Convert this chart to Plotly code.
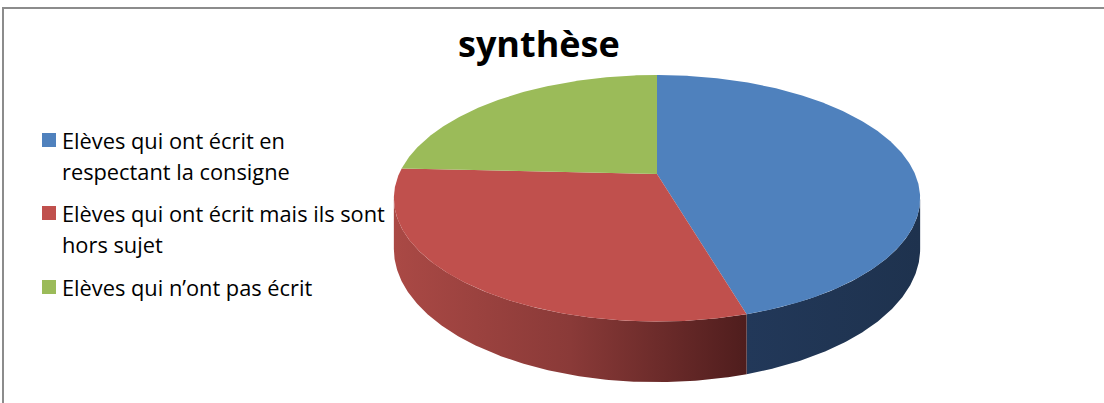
import numpy as np
import plotly.graph_objects as go

# ---- data ----
categories = [
    "Elèves qui ont écrit en respectant la consigne",
    "Elèves qui ont écrit mais ils sont hors sujet",
    "Elèves qui n’ont pas écrit",
]
legend_lines = [
    ["Elèves qui ont écrit en", "respectant la consigne"],
    ["Elèves qui ont écrit mais ils sont", "hors sujet"],
    ["Elèves qui n’ont pas écrit"],
]
values = [15, 10, 8]
title_text = "synthèse"

top_colors = ["#4F81BD", "#C0504D", "#9BBB59"]
side_scales = [
    [[0, "#223859"], [1, "#1E324E"]],
    [[0, "#AA4945"], [0.5, "#8A3A38"], [1, "#4F1D1D"]],
    [[0, "#7A9846"], [1, "#566C2F"]],
]

# ---- page geometry (pixel space) ----
W, H = 1104, 403
CX, CY = 657, 174          # pie centre on screen
RX, RY = 258.0, 118.5      # radii of the tilted disc
DEPTH = 48.7               # thickness of the disc
PERSP = 5.08               # perspective distance (in disc radii)

FONT = "Open Sans"


def project(theta_deg, drop=0.0):
    """Screen position of a rim point; theta clockwise from 12 o'clock."""
    t = np.radians(theta_deg)
    u, v = np.sin(t), -np.cos(t)
    s = PERSP / (PERSP - v)
    return CX + RX * u * s, CY + (RY * v + drop) * s


def arc(a0, a1, drop=0.0, step=0.5):
    n = max(2, int(abs(a1 - a0) / step) + 1)
    th = np.linspace(a0, a1, n)
    return project(th, drop)


total = float(sum(values))
bounds = np.concatenate([[0.0], np.cumsum(values) / total * 360.0])

# silhouette angles of the visible front rim
sil = np.degrees(np.arccos(-1.0 / PERSP))
front_lo, front_hi = sil, 360.0 - sil

fig = go.Figure()

# side walls (front half only)
for i in range(len(values)):
    a0, a1 = max(bounds[i], front_lo), min(bounds[i + 1], front_hi)
    if a1 <= a0:
        continue
    tx, ty = arc(a0, a1)
    bx, by = arc(a1, a0, DEPTH)
    fig.add_trace(go.Scatter(
        x=np.concatenate([tx, bx, tx[:1]]),
        y=np.concatenate([ty, by, ty[:1]]),
        mode="lines", line=dict(width=0), fill="toself",
        fillgradient=dict(type="horizontal", colorscale=side_scales[i]),
        hoverinfo="skip", showlegend=False,
    ))

# top faces
for i in range(len(values)):
    ax, ay = arc(bounds[i], bounds[i + 1])
    fig.add_trace(go.Scatter(
        x=np.concatenate([[CX], ax, [CX]]),
        y=np.concatenate([[CY], ay, [CY]]),
        mode="lines", line=dict(width=0), fill="toself",
        fillcolor=top_colors[i], name=categories[i],
        hovertemplate=f"{categories[i]}: {values[i]}<extra></extra>",
        showlegend=False,
    ))

shapes = [
    # chart frame
    dict(type="rect", xref="x", yref="y", x0=3, y0=8, x1=W + 20, y1=H + 20,
         line=dict(color="#8C8C8C", width=2), fillcolor="rgba(0,0,0,0)", layer="below"),
]
annotations = [
    dict(text=f"<b>{title_text}</b>", x=539, y=43, xref="x", yref="y",
         showarrow=False, xanchor="center", yanchor="middle",
         font=dict(family=FONT, size=36, color="#000000")),
]

# legend: swatches and labels
legend_rows = [140, 213, 287]
line_gap = 31
for i, lines in enumerate(legend_lines):
    y0 = legend_rows[i]
    shapes.append(dict(type="rect", xref="x", yref="y", x0=42, x1=56,
                       y0=y0 - 7, y1=y0 + 7, line=dict(width=0),
                       fillcolor=top_colors[i]))
    for j, txt in enumerate(lines):
        annotations.append(dict(
            text=txt, x=60, y=y0 + j * line_gap, xref="x", yref="y",
            showarrow=False, xanchor="left", yanchor="middle",
            font=dict(family=FONT, size=21.8, color="#000000")))

fig.update_layout(
    width=W, height=H,
    margin=dict(l=0, r=0, t=0, b=0),
    paper_bgcolor="white", plot_bgcolor="white",
    xaxis=dict(range=[0, W], visible=False, fixedrange=True),
    yaxis=dict(range=[H, 0], visible=False, fixedrange=True),
    shapes=shapes, annotations=annotations,
    showlegend=False,
)

fig.write_html("out.html")
